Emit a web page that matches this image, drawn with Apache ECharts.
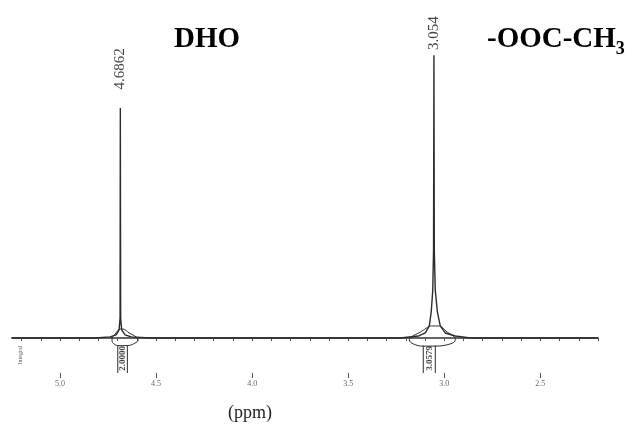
<!DOCTYPE html>
<html>
<head>
<meta charset="utf-8">
<script src="https://cdn.jsdelivr.net/npm/echarts@6/dist/echarts.min.js"></script>
<style>
  html, body { margin: 0; padding: 0; background: #fff; }
  #chart { width: 641px; height: 448px; }
</style>
</head>
<body>
<div id="chart"></div>
<script>
// 1H NMR spectrum: chemical shift (ppm, decreasing to the right) vs. intensity
const peakPpm = [4.6862, 3.054];
const peakLabelHeight = [96.1, 108.9];
const assignments = ['DHO', '-OOC-CH'];
const assignmentSub = '3';

// spectrum trace, read point by point (ppm, relative intensity)
const spectrumPpm = [5.25, 4.90, 4.896, 4.892, 4.8177, 4.7396, 4.7083, 4.6927, 4.6875, peakPpm[0], 4.6844, 4.6792, 4.6615, 4.6302, 4.5312,
  4.108, 4.104, 4.100, 3.921, 3.917, 3.913, 3.650, 3.646, 3.642,
  3.229, 3.135, 3.099, 3.078, 3.068, 3.060, 3.056, peakPpm[1], 3.052, 3.047, 3.036, 3.021, 2.995, 2.943, 2.865,
  2.421, 2.417, 2.413, 2.348, 2.344, 2.340, 2.280, 2.276, 2.272, 2.20];
const spectrumInt = [0, 0, 0.6, 0, 0, 0.4, 1.1, 2.9, 7.1, 82.1, 7.1, 2.9, 1.1, 0.4, 0,
  0, 0.5, 0, 0, 0.6, 0, 0, 0.4, 0,
  0, 0.7, 1.8, 4.3, 9.3, 17.1, 31.4, 101, 31.4, 17.1, 9.3, 4.3, 1.8, 0.7, 0,
  0, 0.6, 0, 0, 0.5, 0, 0, 0.6, 0, 0];

// integral bulbs around each peak base
const bulb1Ppm = [4.6927, 4.7135, 4.7292, 4.7292, 4.7188, 4.6995, 4.6495, 4.6094, 4.5938, 4.6042, 4.6406, 4.6719];
const bulb1Int = [3.2, 1.4, 0, -1.1, -2.1, -2.7, -2.7, -1.8, -0.7, 0.4, 1.8, 3.2];
const bulb2Ppm = [3.0781, 3.125, 3.1719, 3.1823, 3.1615, 3.1094, 3.0469, 2.9687, 2.9427, 2.9479, 2.9844, 3.0312];
const bulb2Int = [4.3, 2.1, 0.4, -0.7, -2.1, -2.9, -2.9, -2.1, -0.7, 0.4, 2.1, 4.3];

// integral value boxes (left edge, right edge) and their values
const integralLeft = [4.6995, 3.1094];
const integralRight = [4.6495, 3.0469];
const integralValue = ['2.0000', '3.0579'];
const integralTop = -2.7;

// axis ticks
const majorTicks = [5.0, 4.5, 4.0, 3.5, 3.0, 2.5];
const minorTicks = [5.2, 5.1, 5.0, 4.9, 4.8, 4.7, 4.6, 4.5, 4.4, 4.3, 4.2, 4.1, 4.0, 3.9, 3.8, 3.7, 3.6, 3.5,
  3.4, 3.3, 3.2, 3.1, 3.0, 2.9, 2.8, 2.7, 2.6, 2.5, 2.4, 2.3, 2.2];

const X_MIN = 2.2, X_MAX = 5.25, Y_MIN = -12.5, Y_MAX = 120;

const zip = (a, b) => a.map((v, i) => [v, b[i]]);

const spectrumData = zip(spectrumPpm, spectrumInt);
const bulbData = zip(bulb1Ppm, bulb1Int).concat([[bulb1Ppm[0], bulb1Int[0]], '-'])
  .concat(zip(bulb2Ppm, bulb2Int)).concat([[bulb2Ppm[0], bulb2Int[0]]]);
const boxData = [];
integralLeft.forEach((l, i) => {
  boxData.push([l, Y_MIN], [l, integralTop], '-', [integralRight[i], integralTop], [integralRight[i], Y_MIN], '-');
});
const integralLabelData = integralLeft.map((l, i) => ({
  value: [(l + integralRight[i]) / 2, -7.3], name: integralValue[i]
}));

const serif = '"Liberation Serif", "DejaVu Serif", serif';
const ink = '#2b2b2b';
const headFont = 'bold 29px ' + serif;

// width of the group name so the subscript sits right after it
const measure = document.createElement('canvas').getContext('2d');
measure.font = headFont;
const groupWidth = measure.measureText(assignments[1]).width;
const groupLeft = 487;

const chart = echarts.init(document.getElementById('chart'), null, { renderer: 'canvas' });
chart.setOption({
  animation: false,
  backgroundColor: '#fff',
  grid: { left: 12, right: 43, top: 2, bottom: 75 },
  xAxis: [{
    type: 'value', inverse: true, min: X_MIN, max: X_MAX,
    axisLine: { show: true, lineStyle: { color: '#666', width: 2 } },
    axisTick: { show: true, customValues: minorTicks, length: 3, lineStyle: { color: '#555', width: 1 } },
    axisLabel: { show: true, customValues: majorTicks, margin: 7, fontFamily: serif, fontSize: 8, color: '#666',
      formatter: v => v.toFixed(1) },
    splitLine: { show: false }
  }, {
    type: 'value', inverse: true, min: X_MIN, max: X_MAX, position: 'bottom',
    axisLine: { show: false },
    axisTick: { show: true, customValues: majorTicks, length: 5, lineStyle: { color: '#555', width: 1 } },
    axisLabel: { show: false },
    splitLine: { show: false }
  }],
  yAxis: { type: 'value', min: Y_MIN, max: Y_MAX, show: false, splitLine: { show: false } },
  series: [{
    type: 'line', data: spectrumData, symbol: 'none',
    lineStyle: { color: ink, width: 1.4 }, z: 3
  }, {
    type: 'line', data: bulbData, symbol: 'none', smooth: 0.4, connectNulls: false,
    lineStyle: { color: ink, width: 1 }, z: 2
  }, {
    type: 'line', data: boxData, symbol: 'none', connectNulls: false,
    lineStyle: { color: ink, width: 1 }, z: 2
  }, {
    type: 'scatter', symbolSize: 0,
    data: peakPpm.map((p, i) => [p, peakLabelHeight[i]]),
    label: { show: true, position: 'inside', rotate: 90, formatter: p => String(p.value[0]),
      fontFamily: serif, fontSize: 15, color: '#111' }
  }, {
    type: 'scatter', symbolSize: 0, data: integralLabelData,
    label: { show: true, position: 'inside', rotate: 90, formatter: p => p.name,
      fontFamily: serif, fontSize: 9, fontWeight: 'bold', color: '#111' }
  }, {
    type: 'scatter', symbolSize: 0, data: [{ value: [5.208, -6.1], name: 'Integral' }],
    label: { show: true, position: 'inside', rotate: 90, formatter: p => p.name,
      fontFamily: serif, fontSize: 6, color: '#333' }
  }],
  graphic: [{
    type: 'text', left: 174, top: 25,
    style: { text: assignments[0], font: headFont, fill: '#000' }
  }, {
    type: 'text', left: groupLeft, top: 25,
    style: { text: assignments[1], font: headFont, fill: '#000' }
  }, {
    type: 'text', left: groupLeft + groupWidth, top: 40,
    style: { text: assignmentSub, font: 'bold 18px ' + serif, fill: '#000' }
  }, {
    type: 'text', left: 228, top: 404,
    style: { text: '(ppm)', font: '18px ' + serif, fill: '#222' }
  }]
});
</script>
</body>
</html>
